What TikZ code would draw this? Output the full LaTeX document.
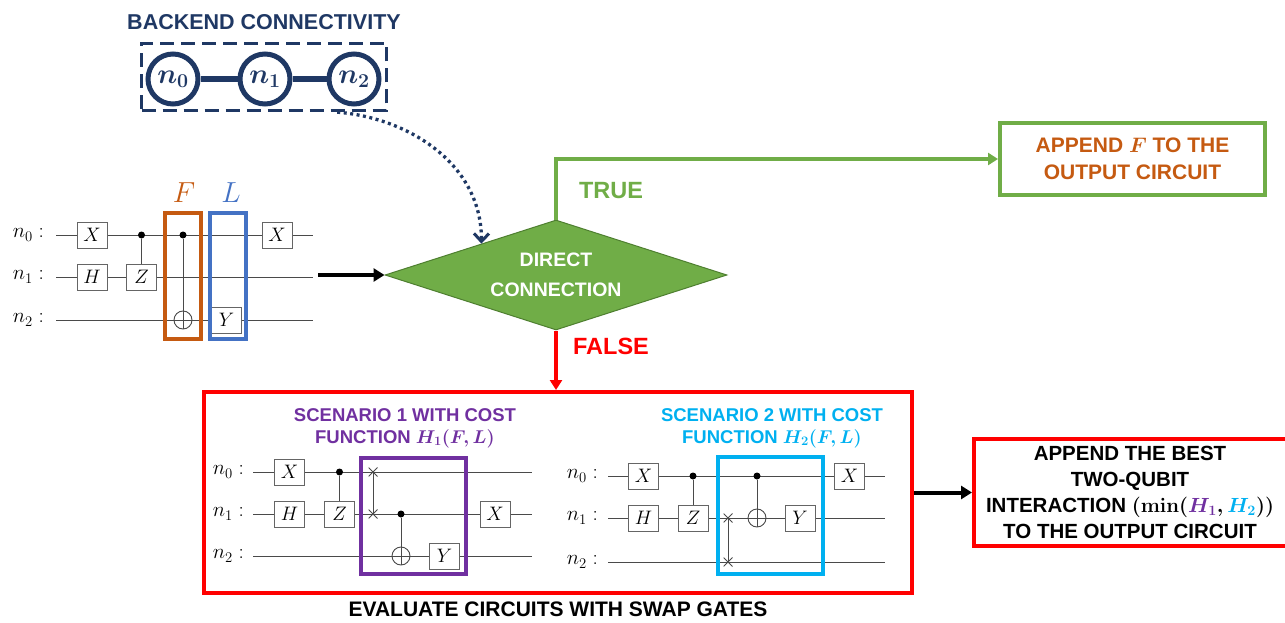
\RequirePackage{fix-cm}
\documentclass[tikz,border=0pt]{standalone}
\usepackage[no-math]{fontspec}
\newfontfamily\arial{Liberation Sans}
\usetikzlibrary{arrows.meta,shapes.geometric,calc}
\definecolor{navy}{HTML}{1F3864}
\definecolor{cfgreen}{HTML}{70AD47}
\definecolor{cfdkgreen}{HTML}{4E7F30}
\definecolor{cforange}{HTML}{C55A11}
\definecolor{cfblue}{HTML}{4472C4}
\definecolor{cfpurple}{HTML}{7030A0}
\definecolor{cfcyan}{HTML}{00B0F0}
\definecolor{cfred}{HTML}{FF0000}
\definecolor{wirec}{HTML}{4A4A4A}
\newcommand\fsz[2]{\fontsize{#1}{#2}\selectfont}
\tikzset{
  wire/.style={draw=wirec, line width=0.9pt},
  gatebox/.style={draw=wirec!85, fill=white, line width=1pt, minimum width=30pt, minimum height=26pt, inner sep=0pt, font=\fsz{19.5}{19.5}},
  ctrldot/.style={circle, fill=black, inner sep=0pt, minimum size=7pt},
  targ/.style={circle, draw=wirec, line width=0.9pt, inner sep=0pt, minimum size=18pt,
    path picture={\draw[wirec, line width=0.9pt] (path picture bounding box.north) -- (path picture bounding box.south) (path picture bounding box.west) -- (path picture bounding box.east);}},
  swapx/.style={inner sep=0pt, minimum size=9pt,
    path picture={\draw[wirec, line width=0.8pt] (path picture bounding box.north west) -- (path picture bounding box.south east) (path picture bounding box.north east) -- (path picture bounding box.south west);}},
  qlabel/.style={font=\fsz{21}{21}, inner sep=0pt, anchor=east},
  frame/.style={draw=#1, line width=4pt, inner sep=0pt},
  sanslab/.style={font=\arial\bfseries\fsz{#1}{#1}, inner sep=0pt},
  bkcirc/.style={circle, draw=navy, line width=5pt, minimum size=50pt, inner sep=0pt, text=navy, font=\fsz{28}{28}\boldmath},
  blkarrow/.style={draw=black, line width=4pt, -{Triangle[length=11pt,width=13pt]}},
}
\begin{document}
\begin{tikzpicture}[x=1pt,y=-1pt]
\useasboundingbox (0,0) rectangle (1285,623);

% ---------------- backend connectivity
\node[sanslab=21.5, text=navy] (btitle) at (264,22) {BACKEND CONNECTIVITY};
\node[draw=navy, line width=3.3pt, dash pattern=on 14pt off 7pt, minimum width=245pt, minimum height=67pt, inner sep=0pt] (bk) at (264,77) {};
\node[bkcirc] (b0) at (173,79) {$n_0$};
\node[bkcirc] (b1) at (265,79) {$n_1$};
\node[bkcirc] (b2) at (354,79) {$n_2$};
\draw[navy, line width=5.5pt] (b0) -- (b1);
\draw[navy, line width=5.5pt] (b1) -- (b2);

% ---------------- decision diamond
\node[diamond, fill=cfgreen, draw=cfdkgreen, line width=1pt, minimum width=342pt, minimum height=110pt, inner sep=0pt] (dia) at (556,275) {};
\node[font=\arial\bfseries\fsz{19.5}{30}, text=white, align=center, inner sep=0pt] (diat) at (556,275) {DIRECT\\CONNECTION};

\coordinate (bkstart) at ($(bk.south)!0.59!(bk.south east)$);
\coordinate (dtip) at ($(dia.west)!0.565!(dia.north)$);
\draw[navy, line width=3.3pt, dash pattern=on 3pt off 3.5pt, -{Straight Barb[length=8pt,width=15pt,line width=3pt]}]
  (bkstart) .. controls (410,118) and (482,165) .. (dtip);

% ---------------- left circuit
\foreach \i/\y in {0/235,1/277,2/320} {
  \node[qlabel] (la\i) at (44,\y) {$n_\i:$};
  \coordinate (las\i) at (56,\y);
  \coordinate (lae\i) at (313,\y);
  \draw[wire] (las\i) -- (lae\i);
}
\node[gatebox] (lx1) at (92,235) {$X$};
\node[gatebox] (lh) at (92,277) {$H$};
\node[gatebox] (lz) at (141.5,277) {$Z$};
\node[ctrldot] (lc1) at (141.5,235) {};
\draw[wire] (lc1) -- (lz.north);
\node[ctrldot] (lc2) at (183,235) {};
\node[targ] (lt2) at (183,320) {};
\draw[wire] (lc2) -- (lt2.south);
\node[gatebox] (ly) at (226.5,320) {$Y$};
\node[gatebox] (lx2) at (277,235) {$X$};
\node[frame=cforange, minimum width=36pt, minimum height=126pt] (fb) at (183,276) {};
\node[frame=cfblue, minimum width=36pt, minimum height=126pt] (lb) at (228,276) {};
\node[font=\fsz{29}{29}, text=cforange, inner sep=0pt] (flab) at (184,193) {$F$};
\node[font=\fsz{29}{29}, text=cfblue, inner sep=0pt] (llab) at (231,193) {$L$};

\coordinate (cin) at (318,275);
\draw[blkarrow] (cin) -- (dia.west);

% ---------------- TRUE branch
\node[frame=cfgreen, minimum width=265pt, minimum height=72pt, font=\arial\bfseries\fsz{21}{27}, text=cforange, align=center] (gb) at (1132.5,159) {APPEND {\boldmath$F$} TO THE\\OUTPUT CIRCUIT};
\draw[cfgreen, line width=3.5pt, -{Triangle[length=10pt,width=12pt]}] (dia.north) |- (gb.west);
\node[sanslab=23.5, text=cfgreen] (truel) at (611,191) {TRUE};

% ---------------- FALSE branch
\node[frame=cfred, minimum width=708pt, minimum height=201pt] (rb) at (558,492.5) {};
\draw[cfred, line width=3.5pt, -{Triangle[length=10pt,width=12pt]}] (dia.south) -- (dia.south |- rb.north);
\node[sanslab=23.5, text=cfred] (falsel) at (611,346) {FALSE};
\node[sanslab=21] (evall) at (558,609) {EVALUATE CIRCUITS WITH SWAP GATES};

% ---------------- scenario 1
\node[font=\arial\bfseries\fsz{18.5}{22}, text=cfpurple, align=center, inner sep=0pt] (s1t) at (405,428) {SCENARIO 1 WITH COST\\FUNCTION {\boldmath$H_1(F,L)$}};
\foreach \i/\y in {0/472,1/514,2/556} {
  \node[qlabel] (sa\i) at (244,\y) {$n_\i:$};
  \coordinate (sas\i) at (253,\y);
  \coordinate (sae\i) at (532,\y);
  \draw[wire] (sas\i) -- (sae\i);
}
\node[gatebox] (s1x) at (289.5,472) {$X$};
\node[gatebox] (s1h) at (289.5,514) {$H$};
\node[gatebox] (s1z) at (339.5,514) {$Z$};
\node[ctrldot] (s1c1) at (339.5,472) {};
\draw[wire] (s1c1) -- (s1z.north);
\node[swapx] (s1w0) at (373,472) {};
\node[swapx] (s1w1) at (373,514) {};
\draw[wire] (s1w0.center) -- (s1w1.center);
\node[ctrldot] (s1c2) at (401,514) {};
\node[targ] (s1tg) at (401,556) {};
\draw[wire] (s1c2) -- (s1tg.south);
\node[gatebox] (s1y) at (444.5,556) {$Y$};
\node[gatebox] (s1x2) at (495,514) {$X$};
\node[frame=cfpurple, minimum width=105pt, minimum height=116pt] (s1b) at (413.5,516) {};

% ---------------- scenario 2
\node[font=\arial\bfseries\fsz{18.5}{22}, text=cfcyan, align=center, inner sep=0pt] (s2t) at (772,428) {SCENARIO 2 WITH COST\\FUNCTION {\boldmath$H_2(F,L)$}};
\foreach \i/\y in {0/476,1/518,2/562} {
  \node[qlabel] (sb\i) at (598,\y) {$n_\i:$};
  \coordinate (sbs\i) at (608,\y);
  \coordinate (sbe\i) at (885,\y);
  \draw[wire] (sbs\i) -- (sbe\i);
}
\node[gatebox] (s2x) at (643.5,476) {$X$};
\node[gatebox] (s2h) at (643.5,518) {$H$};
\node[gatebox] (s2z) at (693,518) {$Z$};
\node[ctrldot] (s2c1) at (693,476) {};
\draw[wire] (s2c1) -- (s2z.north);
\node[swapx] (s2w1) at (728,518) {};
\node[swapx] (s2w2) at (728,562) {};
\draw[wire] (s2w1.center) -- (s2w2.center);
\node[ctrldot] (s2c2) at (757,476) {};
\node[targ] (s2tg) at (757,518) {};
\draw[wire] (s2c2) -- (s2tg.south);
\node[gatebox] (s2y) at (800,518) {$Y$};
\node[gatebox] (s2x2) at (849.5,476) {$X$};
\node[frame=cfcyan, minimum width=105pt, minimum height=117pt] (s2b) at (770.5,515.5) {};

% ---------------- output box
\node[frame=cfred, minimum width=314pt, minimum height=107pt] (ob) at (1131,492.5) {};
\node[font=\arial\bfseries\fsz{20.5}{26}, align=center, inner sep=0pt] (obt) at (1130,492.5) {APPEND THE BEST\\TWO-QUBIT\\INTERACTION {\boldmath$(\mathbf{min}(\textcolor{cfpurple}{H_1},\textcolor{cfcyan}{H_2}))$}\\TO THE OUTPUT CIRCUIT};
\draw[blkarrow] (rb.east) -- (ob.west);
\end{tikzpicture}
\end{document}
